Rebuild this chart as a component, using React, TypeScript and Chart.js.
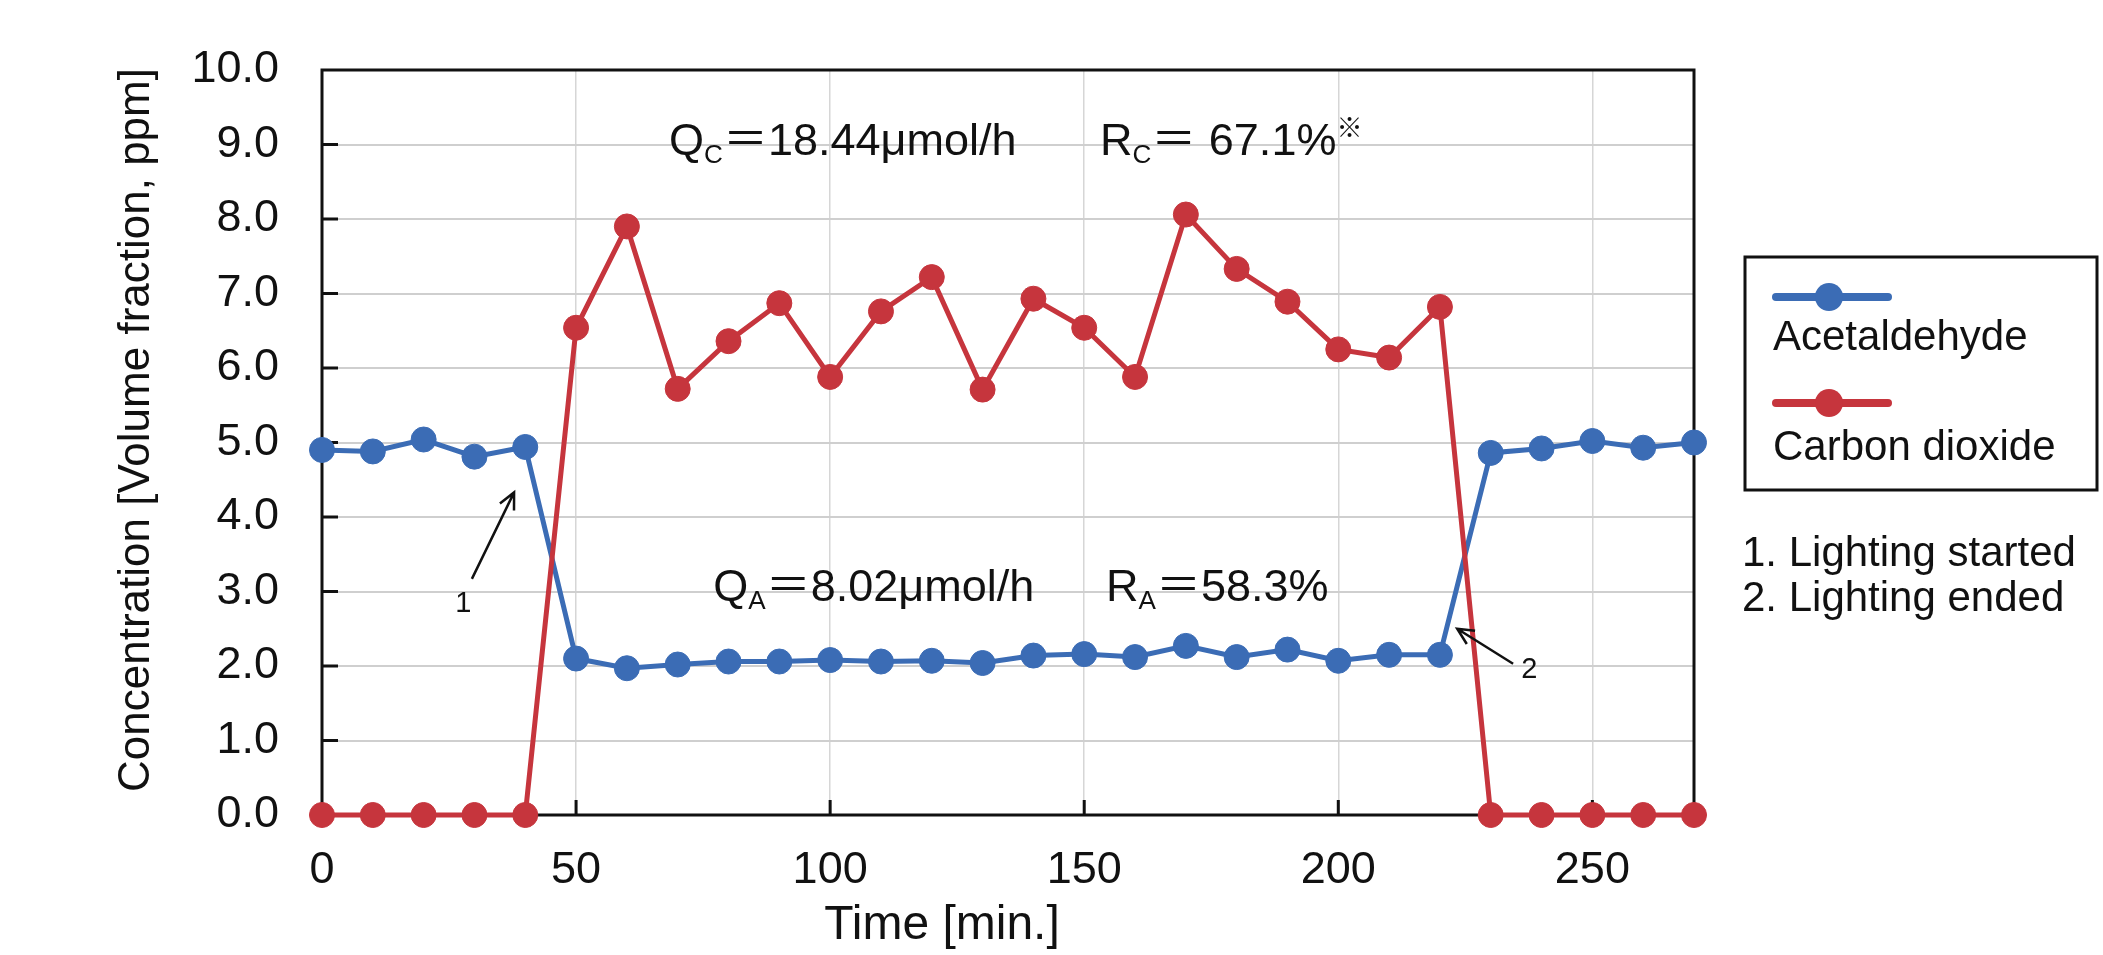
import React, { useEffect, useRef } from 'react';
import { Chart, registerables } from 'chart.js';

Chart.register(...registerables);

// ---- data ----
const timeMin = [0, 10, 20, 30, 40, 50, 60, 70, 80, 90, 100, 110, 120, 130, 140, 150, 160, 170, 180, 190, 200, 210, 220, 230, 240, 250, 260, 270];
const acetaldehyde = [4.90, 4.88, 5.04, 4.81, 4.94, 2.10, 1.97, 2.02, 2.06, 2.06, 2.08, 2.06, 2.07, 2.04, 2.14, 2.16, 2.12, 2.27, 2.12, 2.22, 2.07, 2.15, 2.15, 4.86, 4.92, 5.02, 4.93, 5.00];
const carbonDioxide = [0, 0, 0, 0, 0, 6.54, 7.90, 5.72, 6.36, 6.87, 5.88, 6.76, 7.22, 5.71, 6.93, 6.54, 5.88, 8.06, 7.33, 6.89, 6.25, 6.14, 6.82, 0, 0, 0, 0, 0];
const seriesNames = ['Acetaldehyde', 'Carbon dioxide'];
const noteLines = ['1. Lighting started', '2. Lighting ended'];
const xTitle = 'Time [min.]';
const yTitle = 'Concentration [Volume fraction, ppm]';
const xRange = [0, 270];
const yRange = [0, 10];

// rate annotations: [text, kind] kind 0 normal, 1 subscript, 2 superscript
const rateNotes = [
  { t: 68.3, v: 8.86, parts: [['Q', 0], ['C', 1], ['＝18.44μmol/h', 0]] },
  { t: 153.1, v: 8.86, parts: [['R', 0], ['C', 1], ['＝ 67.1%', 0], ['※', 2]] },
  { t: 77.0, v: 2.87, parts: [['Q', 0], ['A', 1], ['＝8.02μmol/h', 0]] },
  { t: 154.3, v: 2.87, parts: [['R', 0], ['A', 1], ['＝58.3%', 0]] },
];
const arrowNotes = [
  { label: '1', lt: 27.8, lv: 2.83, from: [29.5, 3.17], to: [37.8, 4.33] },
  { label: '2', lt: 237.6, lv: 1.95, from: [234.4, 2.03], to: [223.4, 2.5] },
];

const FONT = "'Liberation Sans', Arial, Helvetica, 'Noto Sans CJK JP', sans-serif";
const BLUE = '#3b6cb5';
const RED = '#c6353d';

function drawParts(ctx: CanvasRenderingContext2D, parts: any[], x: number, y: number, size: number) {
  let cx = x;
  for (const [text, kind] of parts) {
    const s = kind ? size * 0.58 : size;
    ctx.font = `${s}px ${FONT}`;
    const dy = kind === 1 ? size * 0.17 : kind === 2 ? -size * 0.4 : 0;
    ctx.fillText(text, cx, y + dy);
    cx += ctx.measureText(text).width;
  }
}

function drawArrow(ctx: CanvasRenderingContext2D, x1: number, y1: number, x2: number, y2: number) {
  ctx.beginPath();
  ctx.moveTo(x1, y1);
  ctx.lineTo(x2, y2);
  const a = Math.atan2(y2 - y1, x2 - x1);
  const len = 18;
  const spread = 0.45;
  ctx.moveTo(x2 - len * Math.cos(a - spread), y2 - len * Math.sin(a - spread));
  ctx.lineTo(x2, y2);
  ctx.lineTo(x2 - len * Math.cos(a + spread), y2 - len * Math.sin(a + spread));
  ctx.stroke();
}

const decorPlugin = {
  id: 'decor',
  beforeDatasetsDraw(chart: any) {
    const { ctx, chartArea: ca, scales } = chart;
    const xs = scales.x, ys = scales.y;
    ctx.save();
    ctx.strokeStyle = '#111';
    ctx.lineWidth = 3;
    // inward tick marks
    ctx.beginPath();
    for (let v = yRange[0] + 1; v < yRange[1]; v++) {
      const py = ys.getPixelForValue(v);
      ctx.moveTo(ca.left, py);
      ctx.lineTo(ca.left + 16, py);
    }
    for (let t = 50; t < xRange[1]; t += 50) {
      const px = xs.getPixelForValue(t);
      ctx.moveTo(px, ca.bottom);
      ctx.lineTo(px, ca.bottom - 15);
    }
    ctx.stroke();
    ctx.strokeRect(ca.left, ca.top, ca.right - ca.left, ca.bottom - ca.top);
    ctx.restore();
  },
  afterDraw(chart: any) {
    const { ctx, scales } = chart;
    const xs = scales.x, ys = scales.y;
    ctx.save();
    ctx.fillStyle = '#111';
    ctx.textBaseline = 'alphabetic';
    ctx.textAlign = 'left';
    for (const n of rateNotes) {
      drawParts(ctx, n.parts, xs.getPixelForValue(n.t), ys.getPixelForValue(n.v), 45);
    }
    // arrows
    ctx.strokeStyle = '#111';
    ctx.lineWidth = 2.5;
    for (const a of arrowNotes) {
      drawArrow(ctx, xs.getPixelForValue(a.from[0]), ys.getPixelForValue(a.from[1]), xs.getPixelForValue(a.to[0]), ys.getPixelForValue(a.to[1]));
      ctx.font = `29px ${FONT}`;
      ctx.textAlign = 'center';
      ctx.textBaseline = 'middle';
      ctx.fillText(a.label, xs.getPixelForValue(a.lt), ys.getPixelForValue(a.lv));
    }
    // axis titles
    ctx.textAlign = 'center';
    ctx.textBaseline = 'middle';
    ctx.font = `48px ${FONT}`;
    ctx.fillText(xTitle, 942, 926);
    ctx.font = `44px ${FONT}`;
    ctx.save();
    ctx.translate(137, 430);
    ctx.rotate(-Math.PI / 2);
    ctx.fillText(yTitle, 0, 0);
    ctx.restore();
    // legend box
    const lx = 1745, ly = 257, lw = 352, lh = 233;
    ctx.lineWidth = 3;
    ctx.strokeStyle = '#111';
    ctx.strokeRect(lx, ly, lw, lh);
    const colors = [BLUE, RED];
    const sampleY = [297, 403];
    const textY = [350, 460];
    for (let i = 0; i < seriesNames.length; i++) {
      ctx.strokeStyle = colors[i];
      ctx.lineWidth = 8;
      ctx.lineCap = 'round';
      ctx.beginPath();
      ctx.moveTo(1776, sampleY[i]);
      ctx.lineTo(1888, sampleY[i]);
      ctx.stroke();
      ctx.fillStyle = colors[i];
      ctx.beginPath();
      ctx.arc(1829, sampleY[i], 14, 0, Math.PI * 2);
      ctx.fill();
      ctx.fillStyle = '#111';
      ctx.font = `42px ${FONT}`;
      ctx.textAlign = 'left';
      ctx.textBaseline = 'alphabetic';
      ctx.fillText(seriesNames[i], 1773, textY[i]);
    }
    // notes
    ctx.font = `42px ${FONT}`;
    noteLines.forEach((s, i) => ctx.fillText(s, 1742, 566 + i * 45));
    ctx.restore();
  },
};

export default function App() {
  const ref = useRef<HTMLCanvasElement | null>(null);
  useEffect(() => {
    document.body.style.margin = '0';
    document.body.style.overflow = 'hidden';
    document.body.style.background = '#fff';
    const canvas = ref.current;
    if (!canvas) return;
    const chart = new Chart(canvas, {
      type: 'line',
      data: {
        datasets: [
          {
            label: seriesNames[1],
            data: timeMin.map((t, i) => ({ x: t, y: carbonDioxide[i] })),
            borderColor: RED,
            backgroundColor: RED,
            pointBackgroundColor: RED,
            pointBorderColor: RED,
            borderWidth: 5,
            pointRadius: 12.5,
            pointBorderWidth: 1,
            tension: 0,
            clip: false as any,
            order: 0,
          },
          {
            label: seriesNames[0],
            data: timeMin.map((t, i) => ({ x: t, y: acetaldehyde[i] })),
            borderColor: BLUE,
            backgroundColor: BLUE,
            pointBackgroundColor: BLUE,
            pointBorderColor: BLUE,
            borderWidth: 5,
            pointRadius: 12.5,
            pointBorderWidth: 1,
            tension: 0,
            clip: false as any,
            order: 1,
          },
        ],
      },
      options: {
        responsive: false,
        animation: false,
        devicePixelRatio: 1,
        layout: { padding: { left: 0, top: 55, right: 409, bottom: 0 } },
        plugins: { legend: { display: false }, tooltip: { enabled: false } },
        scales: {
          x: {
            type: 'linear',
            min: xRange[0],
            max: xRange[1],
            afterFit: (s: any) => { s.height = 140; },
            ticks: {
              stepSize: 50,
              includeBounds: false,
              padding: 29,
              color: '#111',
              font: { family: FONT, size: 45 },
              maxRotation: 0,
            },
            grid: { color: '#d6d6d6', lineWidth: 1.5, drawTicks: false },
            border: { display: false },
          },
          y: {
            type: 'linear',
            min: yRange[0],
            max: yRange[1],
            afterFit: (s: any) => { s.width = 322; },
            ticks: {
              stepSize: 1,
              padding: 43,
              color: '#111',
              font: { family: FONT, size: 45 },
              callback: (v: any) => Number(v).toFixed(1),
            },
            grid: { color: '#cfcfcf', lineWidth: 2, drawTicks: false },
            border: { display: false },
          },
        },
      },
      plugins: [decorPlugin],
    });
    return () => chart.destroy();
  }, []);
  return (
    <div style={{ width: 2103, height: 955, background: '#fff' }}>
      <canvas ref={ref} width={2103} height={955} style={{ display: 'block' }} />
    </div>
  );
}
